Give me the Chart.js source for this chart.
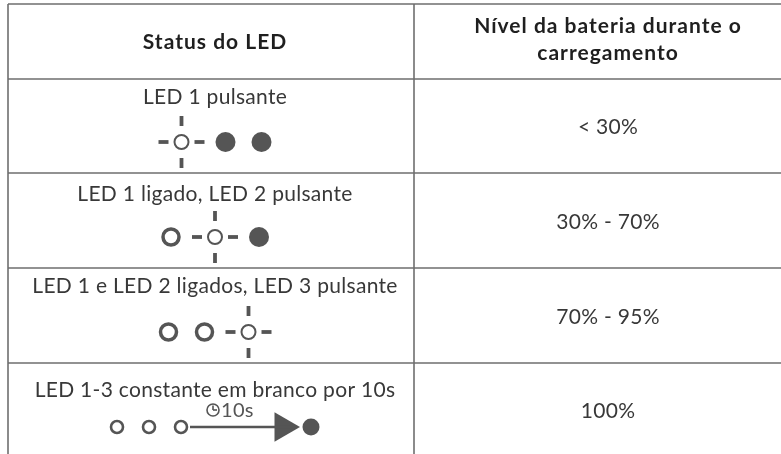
<!DOCTYPE html>
<html>
<head>
<meta charset="utf-8">
<script src="https://cdn.jsdelivr.net/npm/chart.js@4.4.1/dist/chart.umd.min.js"></script>
<style>
  html, body { margin: 0; padding: 0; background: #fff; }
  #wrap { width: 781px; height: 454px; }
</style>
</head>
<body>
<div id="wrap"><canvas id="ledChart" width="781" height="454"></canvas></div>
<script>
// table content
const headers = ['Status do LED', ['Nível da bateria durante o', 'carregamento']];
const statusLabels = [
    'LED 1 pulsante',
    'LED 1 ligado, LED 2 pulsante',
    'LED 1 e LED 2 ligados, LED 3 pulsante',
    'LED 1-3 constante em branco por 10s'
];
const batteryLevels = ['< 30%', '30% - 70%', '70% - 95%', '100%'];
// LED states per row: pulse = blinking, on = lit ring, off = dark dot, white = small ring
const ledStates = [
    ['pulse', 'off', 'off'],
    ['on', 'pulse', 'off'],
    ['on', 'on', 'pulse'],
    ['white', 'white', 'white']
];
const timerLabel = '10s';

// layout (pixel units of the hidden axes)
const colEdges = [8, 414, 802];
const rowEdges = [4, 79, 173, 268, 363, 457];
const statusTextY = [104, 201, 293, 397];
const iconY = [142, 237, 332, 427];
const iconCenter = 215;

const GREY = '#555';
const TEXT = '#383838';

// build glyph points from the LED states
const rings = [], dots = [], pulses = [], hDash = [], vDash = [];
const smallRings = [], arrowLine = [], arrowHead = [], endDots = [], clock = [], clockUp = [], clockRight = [];

ledStates.forEach((states, r) => {
    const y = iconY[r];
    if (states[0] === 'white') {
        // three small rings, timer arrow, then dark dot
        const rel = [0, 32, 64];
        const arrowStart = 73, arrowEnd = 183, dotX = 194;
        const x0 = iconCenter - (dotX + 8.5 - 7.5) / 2 - 0.5;
        rel.forEach(p => smallRings.push({x: x0 + p, y}));
        arrowLine.push({x: x0 + arrowStart, y}, {x: x0 + arrowEnd - 10, y});
        arrowHead.push({x: x0 + arrowEnd - 17, y});
        endDots.push({x: x0 + dotX, y});
        clock.push({x: x0 + 96, y: y - 17});
        clockUp.push({x: x0 + 96, y: y - 17});
        clockRight.push({x: x0 + 96, y: y - 17});
        return;
    }
    const pos = [0];
    for (let i = 1; i < states.length; i++) {
        const gap = (states[i] === 'pulse' || states[i - 1] === 'pulse') ? 44 : 36;
        pos.push(pos[i - 1] + gap);
    }
    const ext = s => s === 'pulse' ? 23 : 10;
    const left = pos[0] - ext(states[0]);
    const right = pos[pos.length - 1] + ext(states[states.length - 1]);
    const shift = iconCenter - (left + right) / 2;
    states.forEach((s, i) => {
        const x = pos[i] + shift;
        if (s === 'on') rings.push({x, y});
        if (s === 'off') dots.push({x, y});
        if (s === 'pulse') {
            pulses.push({x, y});
            hDash.push({x: x - 18, y}, {x: x + 18, y});
            vDash.push({x, y: y - 21}, {x, y: y + 21});
        }
    });
});

const tablePlugin = {
    id: 'ledTable',
    beforeDatasetsDraw(chart) {
        const {ctx, scales: {x, y}} = chart;
        ctx.save();
        ctx.strokeStyle = '#6e6e6e';
        ctx.lineWidth = 1.6;
        rowEdges.slice(0, -1).forEach(v => {
            ctx.beginPath();
            ctx.moveTo(x.getPixelForValue(colEdges[0]), y.getPixelForValue(v));
            ctx.lineTo(x.getPixelForValue(colEdges[2]), y.getPixelForValue(v));
            ctx.stroke();
        });
        colEdges.forEach(v => {
            ctx.beginPath();
            ctx.moveTo(x.getPixelForValue(v), y.getPixelForValue(rowEdges[0]));
            ctx.lineTo(x.getPixelForValue(v), y.getPixelForValue(rowEdges[rowEdges.length - 1]));
            ctx.stroke();
        });
        ctx.restore();
    },
    afterDatasetsDraw(chart) {
        const {ctx, scales: {x, y}} = chart;
        const c0 = x.getPixelForValue(iconCenter);
        const c1 = x.getPixelForValue((colEdges[1] + colEdges[2]) / 2);
        ctx.save();
        ctx.textAlign = 'center';
        ctx.textBaseline = 'alphabetic';
        ctx.fillStyle = '#1f1f1f';
        ctx.font = 'bold 21px Lato';
        ctx.letterSpacing = '1px';
        ctx.fillText(headers[0], c0, y.getPixelForValue(49));
        ctx.fillText(headers[1][0], c1, y.getPixelForValue(33));
        ctx.fillText(headers[1][1], c1, y.getPixelForValue(60));

        ctx.fillStyle = TEXT;
        ctx.font = '21px Lato';
        ctx.letterSpacing = '0.3px';
        statusLabels.forEach((t, i) => ctx.fillText(t, c0, y.getPixelForValue(statusTextY[i])));
        batteryLevels.forEach((t, i) => {
            const mid = (rowEdges[i + 1] + rowEdges[i + 2]) / 2;
            ctx.fillText(t, c1, y.getPixelForValue(mid + 8));
        });

        // timer label above the arrow
        ctx.fillStyle = GREY;
        ctx.textAlign = 'left';
        ctx.font = '20px Lato';
        clock.forEach(p => ctx.fillText(timerLabel, x.getPixelForValue(p.x + 8), y.getPixelForValue(p.y + 7)));
        ctx.restore();
    }
};

const pts = (data, style, radius, border, fill, rotation) => ({
    type: 'scatter',
    data,
    pointStyle: style,
    pointRadius: radius,
    pointBorderWidth: border,
    pointBorderColor: GREY,
    pointBackgroundColor: fill,
    pointRotation: rotation || 0
});

const ctx = document.getElementById('ledChart').getContext('2d');
const ledChart = new Chart(ctx, {
    type: 'scatter',
    data: {
        datasets: [
            // clock hands first so they sit on top (Chart.js paints the first dataset last)
            pts(clockUp, 'dash', 4.5, 1.6, GREY, -90),
            pts(clockRight, 'dash', 4, 1.6, GREY, 0),
            pts(clock, 'circle', 6, 1.6, 'rgba(0,0,0,0)'),
            {
                type: 'line',
                data: arrowLine,
                borderColor: GREY,
                borderWidth: 2.5,
                pointRadius: 0
            },
            pts(hDash, 'line', 5, 3.8, GREY),
            pts(vDash, 'line', 5, 3.8, GREY, 90),
            pts(rings, 'circle', 8, 3.5, '#fff'),
            pts(dots, 'circle', 10, 0, GREY),
            pts(pulses, 'circle', 7, 2, '#fff'),
            pts(smallRings, 'circle', 6, 2.6, '#fff'),
            pts(arrowHead, 'triangle', 17, 0, GREY, 90),
            pts(endDots, 'circle', 8.5, 0, GREY)
        ]
    },
    options: {
        responsive: false,
        devicePixelRatio: 1,
        animation: false,
        layout: { padding: 0, autoPadding: false },
        scales: {
            x: { type: 'linear', min: 0, max: 781, display: false },
            y: { type: 'linear', min: 0, max: 454, reverse: true, display: false }
        },
        plugins: {
            legend: { display: false },
            tooltip: { enabled: false }
        },
        events: []
    },
    plugins: [tablePlugin]
});
</script>
</body>
</html>
